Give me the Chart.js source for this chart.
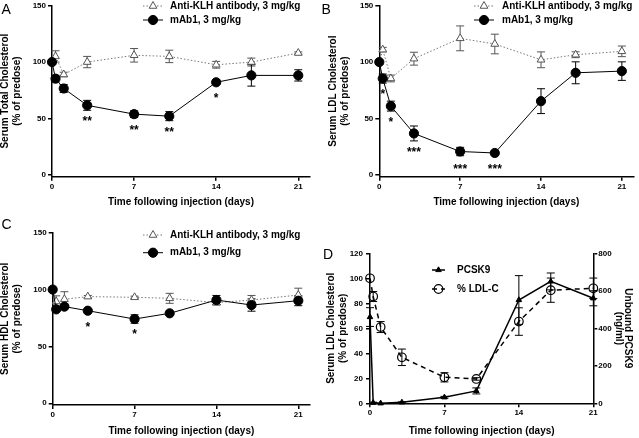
<!DOCTYPE html>
<html>
<head>
<meta charset="utf-8">
<script src="https://cdn.jsdelivr.net/npm/chart.js@4.4.0/dist/chart.umd.min.js"></script>
<style>
  body { margin: 0; background: #fff; width: 639px; height: 438px; position: relative; overflow: hidden; font-family: "Liberation Sans", Arial, sans-serif; }
  canvas { position: absolute; }
  .tag { position: absolute; font-size: 14px; line-height: 14px; color: #000; }
</style>
</head>
<body>
<canvas id="chartA" width="320" height="210" style="left:0;top:0"></canvas>
<canvas id="chartB" width="319" height="210" style="left:320px;top:0"></canvas>
<canvas id="chartC" width="320" height="228" style="left:0;top:210px"></canvas>
<canvas id="chartD" width="319" height="228" style="left:320px;top:210px"></canvas>
<div class="tag" style="left:1.5px;top:1.5px">A</div>
<div class="tag" style="left:321.5px;top:1.5px">B</div>
<div class="tag" style="left:1.5px;top:216.5px">C</div>
<div class="tag" style="left:323px;top:246.5px">D</div>
<script>
// sampling days
const days = [0, 0.3, 1, 3, 7, 10, 14, 17, 21];
const dayTicks = [0, 7, 14, 21];
const pctTicks = [0, 50, 100, 150];
const ldlPctTicks = [0, 20, 40, 60, 80, 100, 120];
const pcsk9Ticks = [0, 200, 400, 600, 800];

// A - total cholesterol (% of predose)
const totalKLH = [100, 105, 89, 100, 106, 105, 97.6, 100, 108];
const totalKLHErr = [0, 5, 2, 5, 6, 5.5, 3, 3.5, 1];
const totalMab = [100, 85.3, 76.6, 61.7, 53.9, 52.1, 82.1, 88.2, 88.2];
const totalMabErr = [0, 3, 3.5, 4.4, 3, 4, 2, 9.5, 5];
const totalStarDays = [3, 7, 10, 14];
const totalStarLevels = [50.4, 42.2, 40.8, 70.5];
const totalStarMarks = ['**', '**', '**', '*'];

// B - LDL cholesterol (% of predose)
const ldlKLH = [100, 111, 85.5, 103, 121, 116, 102, 106.5, 109.5];
const ldlKLHErr = [0, 2, 3, 5.7, 11, 8.7, 7, 2.6, 4.7];
const ldlMab = [100, 85.4, 61, 36.8, 20.8, 19.5, 65.4, 90.5, 92];
const ldlMabErr = [0, 4, 4.4, 6.6, 3.7, 1, 11, 9.7, 8.2];
const ldlStarDays = [0.3, 1, 3, 7, 10];
const ldlStarLevels = [74.3, 49.9, 22.9, 8.2, 8.2];
const ldlStarMarks = ['*', '*', '***', '***', '***'];

// C - HDL cholesterol (% of predose)
const hdlKLH = [100, 89.5, 91.5, 93.8, 93.2, 92.3, 88.5, 90.8, 95.2];
const hdlKLHErr = [0, 5, 6.6, 1, 1, 4.4, 2, 4, 6];
const hdlMab = [100, 82.6, 85, 81.4, 74.1, 79.1, 90.8, 86.4, 90.2];
const hdlMabErr = [0, 2, 1, 1, 3.7, 1, 4, 5.4, 4.4];
const hdlStarDays = [3, 7];
const hdlStarLevels = [69.7, 63.9];
const hdlStarMarks = ['*', '*'];

// D - unbound PCSK9 (ng/ml), LDL-C reuses ldlMab
const pcsk9 = [460, 3, 0, 5, 32, 66, 551, 650, 560];
const pcsk9Err = [50, 3, 0, 3, 5, 16, 130, 45, 40];

const FONT = '"Liberation Sans", Arial, sans-serif';
const tickFont = { family: FONT, size: 8, weight: 'bold' };
const pts = ys => days.map((d, i) => ({ x: d, y: ys[i] }));

// vertical error bars with caps
const errorBars = {
  id: 'errorBars',
  beforeDatasetsDraw(chart) {
    const ctx = chart.ctx;
    chart.data.datasets.forEach((ds, i) => {
      if (!ds.errors) return;
      const meta = chart.getDatasetMeta(i);
      const ys = chart.scales[meta.yAxisID];
      ctx.save();
      ctx.strokeStyle = ds.errorColor || '#000';
      ctx.lineWidth = 1;
      meta.data.forEach((p, j) => {
        const e = ds.errors[j];
        if (!e) return;
        const v = ds.data[j].y;
        const t = ys.getPixelForValue(v + e), b = ys.getPixelForValue(v - e);
        ctx.beginPath();
        ctx.moveTo(p.x, t); ctx.lineTo(p.x, b);
        ctx.moveTo(p.x - 4, t); ctx.lineTo(p.x + 4, t);
        ctx.moveTo(p.x - 4, b); ctx.lineTo(p.x + 4, b);
        ctx.stroke();
      });
      ctx.restore();
    });
  }
};

// significance asterisks
const stars = {
  id: 'stars',
  afterDatasetsDraw(chart, args, o) {
    if (!o.days) return;
    const ctx = chart.ctx;
    ctx.save();
    ctx.font = 'bold 12px ' + FONT;
    ctx.fillStyle = '#000';
    ctx.textAlign = 'center';
    ctx.textBaseline = 'alphabetic';
    o.days.forEach((d, i) => {
      const x = chart.scales.x.getPixelForValue(d);
      const y = chart.scales.y.getPixelForValue(o.levels[i]);
      ctx.fillText(o.marks[i], x, y + 7);
    });
    ctx.restore();
  }
};

function marker(ctx, ds, x, y) {
  const r = ds.pointRadius;
  ctx.beginPath();
  if (ds.pointStyle === 'triangle') {
    ctx.moveTo(x, y - r);
    ctx.lineTo(x + r * Math.sin(2 * Math.PI / 3), y - r * Math.cos(2 * Math.PI / 3));
    ctx.lineTo(x + r * Math.sin(4 * Math.PI / 3), y - r * Math.cos(4 * Math.PI / 3));
    ctx.closePath();
  } else {
    ctx.arc(x, y, r, 0, Math.PI * 2);
  }
  ctx.fillStyle = ds.pointBackgroundColor;
  ctx.fill();
  ctx.lineWidth = ds.pointBorderWidth;
  ctx.strokeStyle = ds.pointBorderColor;
  ctx.stroke();
}

// legend drawn inside the plot
const insetLegend = {
  id: 'insetLegend',
  afterDraw(chart, args, o) {
    if (!o.rows) return;
    const ctx = chart.ctx;
    ctx.save();
    ctx.font = 'bold 10px ' + FONT;
    ctx.textBaseline = 'middle';
    chart.data.datasets.forEach((ds, i) => {
      const y = o.rows[i];
      ctx.strokeStyle = ds.borderColor;
      ctx.lineWidth = ds.borderWidth;
      ctx.setLineDash(ds.borderDash || []);
      ctx.beginPath(); ctx.moveTo(o.x0, y); ctx.lineTo(o.x1, y); ctx.stroke();
      ctx.setLineDash([]);
      marker(ctx, ds, (o.x0 + o.x1) / 2, y);
      ctx.fillStyle = '#000';
      ctx.fillText(ds.label, o.tx, y);
    });
    ctx.restore();
  }
};

function daysAxis(max, height, titlePad) {
  return {
    type: 'linear', min: 0, max: max,
    afterBuildTicks: s => { s.ticks = dayTicks.map(v => ({ value: v })); },
    afterFit: s => { s.height = height; s.paddingLeft = 0; s.paddingRight = 0; },
    grid: { drawOnChartArea: false, color: '#000', tickLength: 4, lineWidth: 1.5 },
    border: { color: '#000', width: 1.5 },
    ticks: { color: '#000', font: tickFont, padding: 1, maxRotation: 0, autoSkip: false },
    title: {
      display: true, text: 'Time following injection (days)', color: '#000',
      font: { family: FONT, size: 10, weight: 'bold', lineHeight: 1.2 },
      padding: { top: 0, bottom: titlePad }
    }
  };
}

function valueAxis(pos, min, max, ticks, width, title, titlePad, labelPad, lh) {
  return {
    type: 'linear', position: pos, min: min, max: max,
    afterBuildTicks: s => { s.ticks = ticks.map(v => ({ value: v })); },
    afterFit: s => { s.width = width; s.paddingTop = 0; s.paddingBottom = 0; },
    grid: { drawOnChartArea: false, color: '#000', tickLength: 4, lineWidth: 1.5 },
    border: { color: '#000', width: 1.5 },
    ticks: { color: '#000', font: tickFont, padding: labelPad },
    title: {
      display: true, text: title, color: '#000',
      font: { family: FONT, size: 10, weight: 'bold', lineHeight: lh || 1.2 },
      padding: { top: titlePad, bottom: 0 }
    }
  };
}

function controlSet(vals, errs) {
  return {
    label: 'Anti-KLH antibody, 3 mg/kg',
    data: pts(vals), errors: errs, errorColor: '#555', order: 1,
    borderColor: '#777', borderWidth: 1, borderDash: [1.5, 2],
    pointStyle: 'triangle', pointRadius: 4.5, pointBackgroundColor: '#fff',
    pointBorderColor: '#555', pointBorderWidth: 1, clip: false
  };
}

function mabSet(vals, errs) {
  return {
    label: 'mAb1, 3 mg/kg',
    data: pts(vals), errors: errs, errorColor: '#000', order: 0,
    borderColor: '#000', borderWidth: 1,
    pointStyle: 'circle', pointRadius: 4.6, pointBackgroundColor: '#000',
    pointBorderColor: '#000', pointBorderWidth: 1, clip: false
  };
}

function pctPanel(id, p) {
  return new Chart(document.getElementById(id), {
    type: 'line',
    data: { datasets: [controlSet(p.klh, p.klhErr), mabSet(p.mab, p.mabErr)] },
    options: {
      responsive: false, animation: false, events: [],
      layout: { padding: p.pad },
      scales: {
        x: daysAxis(22, p.xh, p.xtp),
        y: valueAxis('left', -1.5, 150, pctTicks, p.yw, p.title, p.ytp, 2)
      },
      plugins: {
        legend: { display: false }, tooltip: { enabled: false },
        stars: p.stars,
        insetLegend: p.legend
      }
    },
    plugins: [errorBars, stars, insetLegend]
  });
}

pctPanel('chartA', {
  klh: totalKLH, klhErr: totalKLHErr, mab: totalMab, mabErr: totalMabErr,
  pad: { left: 0, top: 3.3, right: 10, bottom: 0 }, xh: 33.3, xtp: 2, yw: 52, ytp: -1,
  title: ['Serum Total Cholesterol', '(% of predose)'],
  stars: { days: totalStarDays, levels: totalStarLevels, marks: totalStarMarks },
  legend: { x0: 143, x1: 163, tx: 170, rows: [6, 20] }
});

pctPanel('chartB', {
  klh: ldlKLH, klhErr: ldlKLHErr, mab: ldlMab, mabErr: ldlMabErr,
  pad: { left: 0, top: 4, right: 0.7, bottom: 0 }, xh: 33.3, xtp: 2, yw: 59.3, ytp: 7,
  title: ['Serum LDL Cholesterol', '(% of predose)'],
  stars: { days: ldlStarDays, levels: ldlStarLevels, marks: ldlStarMarks },
  legend: { x0: 154, x1: 174, tx: 182, rows: [6, 20] }
});

pctPanel('chartC', {
  klh: hdlKLH, klhErr: hdlKLHErr, mab: hdlMab, mabErr: hdlMabErr,
  pad: { left: 0, top: 22.7, right: 10, bottom: 0 }, xh: 33, xtp: 0.3, yw: 52.7, ytp: -1,
  title: ['Serum HDL Cholesterol', '(% of predose)'],
  stars: { days: hdlStarDays, levels: hdlStarLevels, marks: hdlStarMarks },
  legend: { x0: 143, x1: 163, tx: 170, rows: [25, 42.7] }
});

new Chart(document.getElementById('chartD'), {
  type: 'line',
  data: {
    datasets: [{
      label: 'PCSK9', yAxisID: 'y2',
      data: pts(pcsk9), errors: pcsk9Err, errorColor: '#000',
      borderColor: '#000', borderWidth: 1.5,
      pointStyle: 'triangle', pointRadius: 3.2, pointBackgroundColor: '#000',
      pointBorderColor: '#000', pointBorderWidth: 1, clip: false
    }, {
      label: '% LDL-C', yAxisID: 'y',
      data: pts(ldlMab), errors: ldlMabErr, errorColor: '#000',
      borderColor: '#000', borderWidth: 1.5, borderDash: [5, 4],
      pointStyle: 'circle', pointRadius: 4.3, pointBackgroundColor: 'rgba(255,255,255,0)',
      pointBorderColor: '#000', pointBorderWidth: 1.2, clip: false
    }]
  },
  options: {
    responsive: false, animation: false, events: [],
    layout: { padding: { left: 0, top: 43.3, right: 6.5, bottom: 0 } },
    scales: {
      x: daysAxis(21, 34.7, 0.3),
      y: valueAxis('left', 0, 120, ldlPctTicks, 50, ['Serum LDL Cholesterol', '(% of predose)'], 5.7, 3),
      y2: valueAxis('right', 0, 800, pcsk9Ticks, 39.2, ['Unbound PCSK9', '(ng/ml)'], 0, 1, 0.9)
    },
    plugins: {
      legend: { display: false }, tooltip: { enabled: false },
      insetLegend: { x0: 112, x1: 125, tx: 137, rows: [60, 79] }
    }
  },
  plugins: [errorBars, insetLegend]
});
</script>
</body>
</html>
